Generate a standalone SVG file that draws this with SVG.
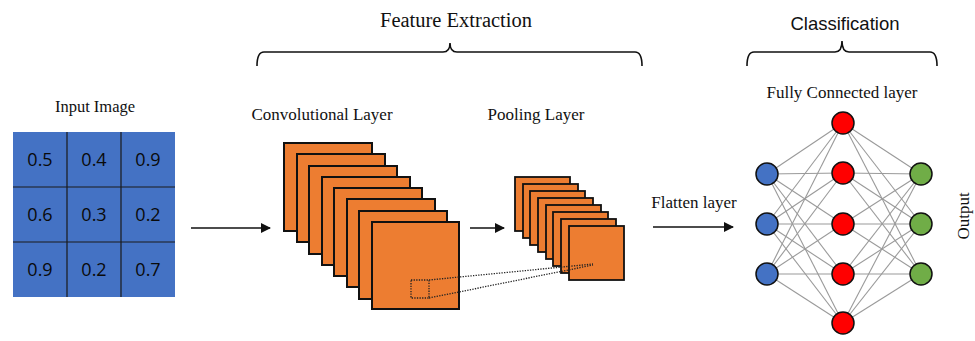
<svg xmlns="http://www.w3.org/2000/svg" width="975" height="341" viewBox="0 0 975 341">
  <style>
    .serif { font-family: "Liberation Serif", "Times New Roman", serif; fill: #111; }
    .sans { font-family: "Liberation Sans", Arial, sans-serif; fill: #111; }
    .cell-txt { font-family: "Open Sans", "Liberation Sans", sans-serif; font-size: 18px; fill: #0a0a0a; text-anchor: middle; }
    .map { fill: #ED7D31; stroke: #111; stroke-width: 2; }
    .pool { fill: #ED7D31; stroke: #111; stroke-width: 1.8; }
    .brace { fill: none; stroke: #111; stroke-width: 1.6; }
    .arrow { stroke: #111; stroke-width: 1.4; fill: none; marker-end: url(#head); }
    .edge { stroke: #9a9a9a; stroke-width: 1.1; }
    .dots { fill: none; stroke: #222; stroke-width: 1.3; stroke-dasharray: 1.3 1.3; }
    .n { stroke: #111; stroke-width: 1.5; }
  </style>
  <defs>
    <marker id="head" viewBox="0 0 10 10" refX="9" refY="5" markerWidth="10" markerHeight="10" markerUnits="userSpaceOnUse" orient="auto">
      <path d="M0,0 L10,5 L0,10 z" fill="#111"/>
    </marker>
  </defs>
  <rect width="975" height="341" fill="#fff"/>

  <!-- section headings with braces -->
  <g id="feature-extraction">
    <text class="serif" x="456" y="27" font-size="20.5" text-anchor="middle">Feature Extraction</text>
    <path class="brace" d="M257,66 Q257,52 264,52 L443,52 Q450,52 450,43 Q450,52 457,52 L635,52 Q642,52 642,66"/>
  </g>
  <g id="classification">
    <text class="sans" x="845" y="30" font-size="18.5" text-anchor="middle">Classification</text>
    <path class="brace" d="M747,66 Q747,52 754,52 L835,52 Q842,52 842,41 Q842,52 849,52 L930,52 Q937,52 937,66"/>
  </g>

  <!-- input image grid -->
  <g id="input-image">
    <text class="serif" x="95" y="112" font-size="16.5" text-anchor="middle">Input Image</text>
    <rect x="13" y="132" width="162" height="165" fill="#4472C4"/>
    <g stroke="#1a1a1a" stroke-width="1.2">
      <line x1="67" y1="132" x2="67" y2="297"/>
      <line x1="121" y1="132" x2="121" y2="297"/>
      <line x1="13" y1="187" x2="175" y2="187"/>
      <line x1="13" y1="242" x2="175" y2="242"/>
    </g>
    <text class="cell-txt" x="40" y="166">0.5</text>
    <text class="cell-txt" x="94" y="166">0.4</text>
    <text class="cell-txt" x="148" y="166">0.9</text>
    <text class="cell-txt" x="40" y="221">0.6</text>
    <text class="cell-txt" x="94" y="221">0.3</text>
    <text class="cell-txt" x="148" y="221">0.2</text>
    <text class="cell-txt" x="40" y="276">0.9</text>
    <text class="cell-txt" x="94" y="276">0.2</text>
    <text class="cell-txt" x="148" y="276">0.7</text>
  </g>

  <!-- convolutional feature maps -->
  <g id="conv-layer">
    <text class="serif" x="322" y="120" font-size="17" text-anchor="middle">Convolutional Layer</text>
    <rect class="map" x="284" y="143" width="88" height="88"/>
    <rect class="map" x="297" y="154" width="88" height="88"/>
    <rect class="map" x="309" y="166" width="88" height="88"/>
    <rect class="map" x="322" y="177" width="88" height="88"/>
    <rect class="map" x="334" y="188" width="88" height="88"/>
    <rect class="map" x="347" y="199" width="88" height="88"/>
    <rect class="map" x="359" y="211" width="88" height="88"/>
    <rect class="map" x="372" y="222" width="87" height="87"/>
    <rect class="dots" x="411" y="280" width="18" height="18"/>
  </g>

  <!-- pooled maps -->
  <g id="pooling-layer">
    <text class="serif" x="536" y="120" font-size="17" text-anchor="middle">Pooling Layer</text>
    <rect class="pool" x="515" y="177" width="55" height="54"/>
    <rect class="pool" x="523" y="184" width="55" height="54"/>
    <rect class="pool" x="530" y="191" width="55" height="54"/>
    <rect class="pool" x="538" y="198" width="55" height="54"/>
    <rect class="pool" x="546" y="205" width="55" height="54"/>
    <rect class="pool" x="553" y="212" width="55" height="54"/>
    <rect class="pool" x="561" y="219" width="55" height="54"/>
    <rect class="pool" x="569" y="226" width="55" height="54"/>
  </g>

  <g id="flatten-layer">
    <text class="serif" x="694" y="208" font-size="17" text-anchor="middle">Flatten layer</text>
  </g>

  <g id="output-label">
    <text class="serif" font-size="17" text-anchor="middle" transform="translate(969,216) rotate(-90)">Output</text>
  </g>

  <!-- connectors -->
  <g id="connectors">
    <line class="arrow" x1="191" y1="228" x2="270" y2="228"/>
    <line class="arrow" x1="470" y1="228" x2="504" y2="228"/>
    <line class="arrow" x1="653" y1="227" x2="733" y2="227"/>
    <line class="dots" x1="429" y1="280" x2="593" y2="264"/>
    <line class="dots" x1="429" y1="298" x2="593" y2="265"/>
    <g id="fc-edges">
      <!-- input to hidden -->
      <line class="edge" x1="767" y1="174" x2="843" y2="123"/>
      <line class="edge" x1="767" y1="174" x2="843" y2="173"/>
      <line class="edge" x1="767" y1="174" x2="843" y2="224"/>
      <line class="edge" x1="767" y1="174" x2="843" y2="274"/>
      <line class="edge" x1="767" y1="174" x2="843" y2="323"/>
      <line class="edge" x1="767" y1="224" x2="843" y2="123"/>
      <line class="edge" x1="767" y1="224" x2="843" y2="173"/>
      <line class="edge" x1="767" y1="224" x2="843" y2="224"/>
      <line class="edge" x1="767" y1="224" x2="843" y2="274"/>
      <line class="edge" x1="767" y1="224" x2="843" y2="323"/>
      <line class="edge" x1="767" y1="274" x2="843" y2="123"/>
      <line class="edge" x1="767" y1="274" x2="843" y2="173"/>
      <line class="edge" x1="767" y1="274" x2="843" y2="224"/>
      <line class="edge" x1="767" y1="274" x2="843" y2="274"/>
      <line class="edge" x1="767" y1="274" x2="843" y2="323"/>
      <!-- hidden to output -->
      <line class="edge" x1="843" y1="123" x2="921" y2="174"/>
      <line class="edge" x1="843" y1="123" x2="921" y2="224"/>
      <line class="edge" x1="843" y1="123" x2="921" y2="274"/>
      <line class="edge" x1="843" y1="173" x2="921" y2="174"/>
      <line class="edge" x1="843" y1="173" x2="921" y2="224"/>
      <line class="edge" x1="843" y1="173" x2="921" y2="274"/>
      <line class="edge" x1="843" y1="224" x2="921" y2="174"/>
      <line class="edge" x1="843" y1="224" x2="921" y2="224"/>
      <line class="edge" x1="843" y1="224" x2="921" y2="274"/>
      <line class="edge" x1="843" y1="274" x2="921" y2="174"/>
      <line class="edge" x1="843" y1="274" x2="921" y2="224"/>
      <line class="edge" x1="843" y1="274" x2="921" y2="274"/>
      <line class="edge" x1="843" y1="323" x2="921" y2="174"/>
      <line class="edge" x1="843" y1="323" x2="921" y2="224"/>
      <line class="edge" x1="843" y1="323" x2="921" y2="274"/>
    </g>
  </g>

  <!-- fully connected network -->
  <g id="fully-connected">
    <text class="serif" x="842" y="98" font-size="17" text-anchor="middle">Fully Connected layer</text>
    <g id="fc-input" fill="#4472C4">
      <circle class="n" cx="767" cy="174" r="11"/>
      <circle class="n" cx="767" cy="224" r="11"/>
      <circle class="n" cx="767" cy="274" r="11"/>
    </g>
    <g id="fc-hidden" fill="#FF0000">
      <circle class="n" cx="843" cy="123" r="11"/>
      <circle class="n" cx="843" cy="173" r="11"/>
      <circle class="n" cx="843" cy="224" r="11"/>
      <circle class="n" cx="843" cy="274" r="11"/>
      <circle class="n" cx="843" cy="323" r="11"/>
    </g>
    <g id="fc-output" fill="#70AD47">
      <circle class="n" cx="921" cy="174" r="11"/>
      <circle class="n" cx="921" cy="224" r="11"/>
      <circle class="n" cx="921" cy="274" r="11"/>
    </g>
  </g>
</svg>
